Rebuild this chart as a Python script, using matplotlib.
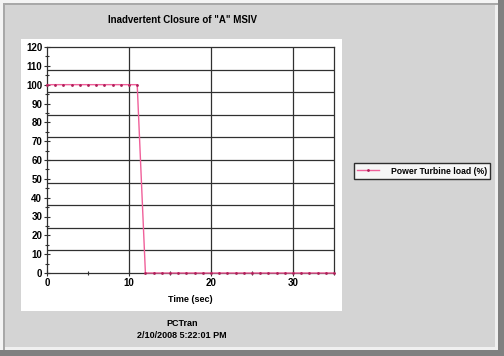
import matplotlib
matplotlib.use("Agg")
import matplotlib.pyplot as plt
from matplotlib.patches import Rectangle
from matplotlib.ticker import MultipleLocator
import numpy as np

plt.rcParams['font.family'] = ['Liberation Sans', 'DejaVu Sans']

# Data
time_s = list(range(0, 36))
power_turbine_load = [100]*12 + [0]*24
series_label = "Power Turbine load (%)"
title = 'Inadvertent Closure of "A" MSIV'
xlabel = "Time (sec)"
footer1 = "PCTran"
footer2 = "2/10/2008 5:22:01 PM"
grid_y = [12, 24, 36, 48, 60, 72, 84, 96, 108]
grid_x = [10, 20, 30]

W, H = 504, 356
fig = plt.figure(figsize=(W/100, H/100), dpi=100)
fig.patch.set_facecolor("#d4d4d4")

def px(x0, y0, x1, y1, **kw):
    r = Rectangle((x0/W, 1 - y1/H), (x1-x0)/W, (y1-y0)/H, transform=fig.transFigure, **kw)
    fig.add_artist(r)

# outer frame
px(0, 0, W, 3, facecolor="#f4f4f4", edgecolor="none", zorder=0)
px(0, 0, 3, H, facecolor="#f4f4f4", edgecolor="none", zorder=0)
px(3, 3, W, 5, facecolor="#a8a8a8", edgecolor="none", zorder=0)
px(3, 3, 5, H, facecolor="#a8a8a8", edgecolor="none", zorder=0)
px(0, 350, W, H, facecolor="#808080", edgecolor="none", zorder=0)
px(498, 0, W, H, facecolor="#808080", edgecolor="none", zorder=0)
px(5, 347, 498, 350, facecolor="#f0f0f0", edgecolor="none", zorder=0)
px(495, 5, 498, 350, facecolor="#f0f0f0", edgecolor="none", zorder=0)
# white panel
px(21, 39, 342, 311, facecolor="white", edgecolor="none", zorder=0)

ax = fig.add_axes([47/W, 1-273/H, (334-47)/W, (273-47)/H])
ax.set_facecolor("white")
ax.set_xlim(0, 35)
ax.set_ylim(0, 120)

ax.hlines(grid_y, 0, 35, colors="#303030", linewidth=0.9, zorder=1)
ax.vlines(grid_x, 0, 120, colors="#303030", linewidth=0.9, zorder=1)

ax.plot(time_s, power_turbine_load, color="#f0609a", linewidth=1.0,
        marker="o", markersize=1.0, markerfacecolor="#b0205a",
        markeredgecolor="#b0205a", zorder=3, clip_on=False, label=series_label)

for s in ax.spines.values():
    s.set_color("#303030")
    s.set_linewidth(0.9)

ax.yaxis.set_major_locator(MultipleLocator(10))
ax.yaxis.set_minor_locator(MultipleLocator(5))
ax.xaxis.set_major_locator(MultipleLocator(10))
ax.xaxis.set_minor_locator(MultipleLocator(5))
ax.tick_params(axis="both", which="major", direction="inout", length=4, width=0.8,
               colors="#303030", labelsize=7, labelcolor="black", pad=1.5)
ax.tick_params(axis="both", which="minor", direction="inout", length=3, width=0.8, colors="#303030")
for lab in ax.get_xticklabels() + ax.get_yticklabels():
    lab.set_fontweight("bold")

ax.set_xlabel(xlabel, fontsize=6.5, fontweight="bold", labelpad=5)

fig.text(182/W, 1-20/H, title, ha="center", va="center", fontsize=7, fontweight="bold")
fig.text(182/W, 1-324/H, footer1, ha="center", va="center", fontsize=6.5, fontweight="bold")
fig.text(182/W, 1-336/H, footer2, ha="center", va="center", fontsize=6.5, fontweight="bold")

leg = fig.legend(loc="center", bbox_to_anchor=(422/W, 1-171/H), fontsize=6.2,
                 frameon=True, fancybox=False, edgecolor="black", borderpad=0.35,
                 handlelength=2.6, handletextpad=1.4, borderaxespad=0, markerscale=1.0)
leg.get_frame().set_linewidth(1.0)
for t in leg.get_texts():
    t.set_fontweight("bold")

fig.savefig("out.png", dpi=100, facecolor=fig.get_facecolor())
